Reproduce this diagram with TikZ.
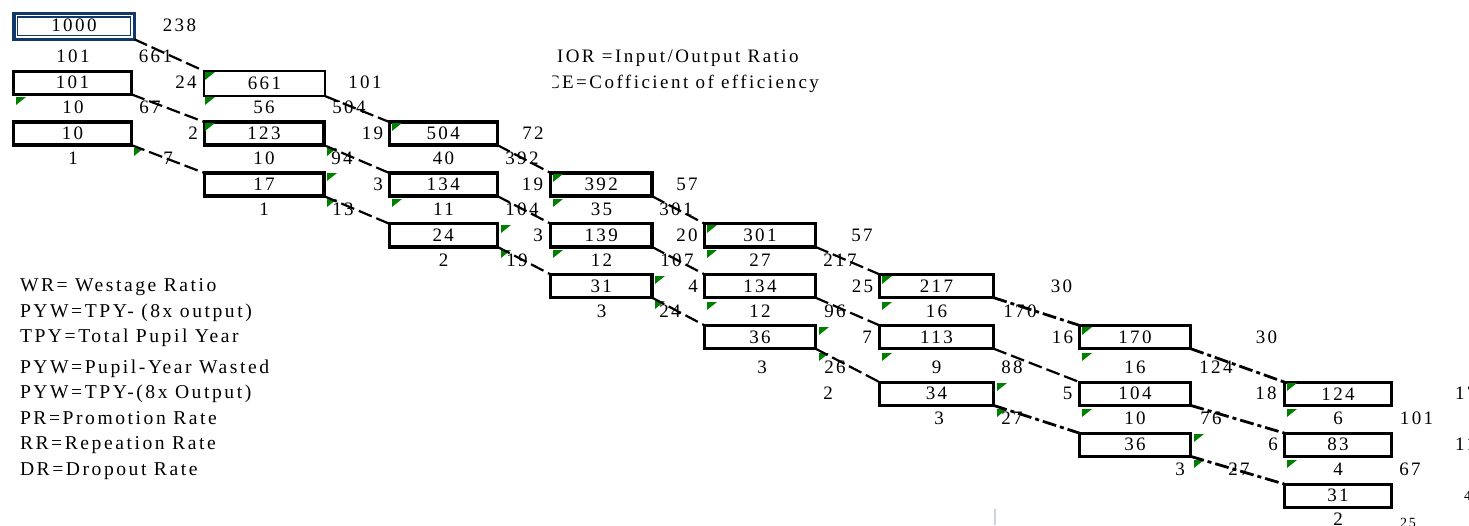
\documentclass[tikz,border=0pt]{standalone}
\usepackage{fontspec}
\setmainfont{Liberation Serif}[LetterSpace=13]
\definecolor{excelgreen}{RGB}{0,128,0}
\definecolor{boxnavy}{RGB}{16,56,104}
\definecolor{faintline}{RGB}{205,213,228}
\tikzset{
  numfont/.style={font=\fontsize{19}{22}\selectfont},
  legfont/.style={font=\fontsize{19.6}{22}\selectfont},
  smallfont/.style={font=\fontsize{14}{16}\selectfont},
  box/.style={draw=black, line width=3.4pt, minimum height=23.1pt, inner sep=0pt, outer sep=0pt, numfont},
  num/.style={inner sep=0pt, outer sep=0pt, anchor=base, numfont},
  txt/.style={inner sep=0pt, outer sep=0pt, anchor=base west, numfont},
  leg/.style={inner sep=0pt, outer sep=0pt, anchor=base west, legfont},
  flow/.style={line width=2.2pt, dash pattern=on 14pt off 5pt},
  heavyflow/.style={line width=2.8pt, dash pattern=on 14pt off 4pt on 4pt off 4pt},
  tri/.style={fill=excelgreen},
}
\begin{document}
\begin{tikzpicture}[x=1pt,y=-1pt]
\fill[white] (0,0) rectangle (1469,525);
\useasboundingbox (0,0) rectangle (1469,525);

% ---------- boxes ----------
\node[box, draw=boxnavy, line width=3.5pt, minimum width=120.5pt, minimum height=26pt] (b00) at (74,26.25) {};
\node[numfont, inner sep=0pt, anchor=base] (t00) at (74,31.8) {1000};
\draw[boxnavy, line width=1.3pt] ([shift={(3.8,3.8)}]b00.north west) rectangle ([shift={(-3.8,-3.8)}]b00.south east);
\node[box, minimum width=117.6pt] (b01) at (72.5,82.75) {101};
\node[box, minimum width=117.6pt] (b02) at (72.5,133.5) {10};

\node[box, line width=1.8pt, minimum width=121.2pt, minimum height=25.2pt] (b11) at (264.5,83.5) {661};
\node[box, minimum width=119.6pt] (b12) at (264,133.5) {123};
\node[box, minimum width=119.6pt] (b13) at (264,184.5) {17};

\node[box, minimum width=108.1pt] (b22) at (443.25,133.5) {504};
\node[box, minimum width=108.1pt] (b23) at (443.25,184.5) {134};
\node[box, minimum width=108.1pt] (b24) at (443.25,235.25) {24};

\node[box, minimum width=101.1pt] (b33) at (601.25,184.5) {392};
\node[box, minimum width=101.1pt] (b34) at (601.25,235.25) {139};
\node[box, minimum width=101.1pt] (b35) at (601.25,286) {31};

\node[box, minimum width=110.6pt] (b44) at (760,235.25) {301};
\node[box, minimum width=110.6pt] (b45) at (760,286) {134};
\node[box, minimum width=110.6pt] (b46) at (760,337) {36};

\node[box, minimum width=113.6pt] (b55) at (936.5,286) {217};
\node[box, minimum width=113.6pt] (b56) at (936.5,337) {113};
\node[box, minimum width=113.6pt] (b57) at (936.5,393.75) {34};

\node[box, minimum width=110.6pt] (b66) at (1135,337) {170};
\node[box, minimum width=110.6pt] (b67) at (1135,393.75) {104};
\node[box, minimum width=110.6pt] (b68) at (1135,444.75) {36};

\node[box, minimum width=106.6pt] (b77) at (1338,393.75) {124};
\node[box, minimum width=106.6pt] (b78) at (1338,444.75) {83};
\node[box, minimum width=106.6pt] (b79) at (1338,495.75) {31};

% ---------- green indicators ----------
\foreach \gx/\gy in {16/97, 205/72, 205/97, 205/123, 134/148, 327/148, 327/173, 327/199,
  392/123, 392/199, 501/225, 501/250, 553/174, 553/199, 553/250, 655/276, 655/301,
  707/225, 707/250, 707/302, 819/327, 819/353, 882/276, 882/302, 882/353, 997/383, 997/409,
  1082/327, 1082/353, 1082/409, 1194/434, 1194/460, 1287/383, 1287/409, 1287/460}
  \fill[tri] (\gx,\gy) -- ++(10,0) -- ++(-10,8) -- cycle;

% ---------- dropout labels (right of boxes) ----------
\node[num] (d00) at (179.5,31.3) {238};
\node[num] (d01) at (186,88.8) {24};
\node[num] (d02) at (193,139.8) {2};
\node[num] (d11) at (365,88.8) {101};
\node[num] (d12) at (372.5,139.8) {19};
\node[num] (d13) at (378,190.8) {3};
\node[num] (d22) at (533,139.8) {72};
\node[num] (d23) at (532.5,190.8) {19};
\node[num] (d24) at (538,241.8) {3};
\node[num] (d33) at (687,190.8) {57};
\node[num] (d34) at (687,241.8) {20};
\node[num] (d35) at (693,292.3) {4};
\node[num] (d44) at (862,241.8) {57};
\node[num] (d45) at (862.5,292.3) {25};
\node[num] (d46) at (867,343.3) {7};
\node[num] (dx) at (828,399.8) {2};
\node[num] (d55) at (1061.5,292.3) {30};
\node[num] (d56) at (1062.5,343.3) {16};
\node[num] (d57) at (1067.5,399.8) {5};
\node[num] (d66) at (1266.5,343.3) {30};
\node[num] (d67) at (1266,399.8) {18};
\node[num] (d68) at (1273,450.8) {6};
\node[txt] (d77) at (1455,399.8) {17};
\node[txt] (d78) at (1455,450.8) {11};
\node[smallfont, inner sep=0pt, anchor=base west] (d79) at (1464,500) {4};

% ---------- repeater labels (below boxes) ----------
\node[num] (r00) at (73,62.3) {101};
\node[num] (r01) at (73,113.3) {10};
\node[num] (r02) at (73,164.3) {1};
\node[num] (r11) at (264,113.3) {56};
\node[num] (r12) at (264,164.3) {10};
\node[num] (r13) at (264,215.3) {1};
\node[num] (r22) at (443.5,164.3) {40};
\node[num] (r23) at (443.5,215.3) {11};
\node[num] (r24) at (443.5,266.3) {2};
\node[num] (r33) at (601.5,215.3) {35};
\node[num] (r34) at (601.5,266.3) {12};
\node[num] (r35) at (601.5,317.3) {3};
\node[num] (r44) at (760,266.3) {27};
\node[num] (r45) at (760,317.3) {12};
\node[num] (r46) at (762,373.3) {3};
\node[num] (r55) at (936.5,317.3) {16};
\node[num] (r56) at (936.5,373.3) {9};
\node[num] (r57) at (939,424.3) {3};
\node[num] (r66) at (1135,373.3) {16};
\node[num] (r67) at (1135,424.3) {10};
\node[num] (r68) at (1180,475.3) {3};
\node[num] (r77) at (1338,424.3) {6};
\node[num] (r78) at (1338,475.3) {4};
\node[num] (r79) at (1338,525.3) {2};

% ---------- promoted labels ----------
\node[num] (p00) at (155.5,62.3) {661};
\node[num] (p01) at (150,113.3) {67};
\node[num] (p02) at (168,164.3) {7};
\node[num] (p11) at (349,113.3) {504};
\node[num] (p12) at (342,164.3) {94};
\node[num] (p13) at (343,215.3) {13};
\node[num] (p22) at (522,164.3) {392};
\node[num] (p23) at (522,215.3) {104};
\node[num] (p24) at (517,266.3) {19};
\node[num] (p33) at (676,215.3) {301};
\node[num] (p34) at (677,266.3) {107};
\node[num] (p35) at (670,317.3) {24};
\node[num] (p44) at (840,266.3) {217};
\node[num] (p45) at (835,317.3) {96};
\node[num] (p46) at (835,373.3) {26};
\node[num] (p55) at (1020,317.3) {170};
\node[num] (p56) at (1012,373.3) {88};
\node[num] (p57) at (1012,424.3) {27};
\node[num] (p66) at (1216,373.3) {124};
\node[num] (p67) at (1211,424.3) {76};
\node[num] (p68) at (1239,475.3) {27};
\node[num] (p77) at (1416.5,424.3) {101};
\node[num] (p78) at (1410,475.3) {67};
\node[smallfont, inner sep=0pt, anchor=base] (p79) at (1408,527) {25};

% ---------- legend ----------
\node[leg] (lg1) at (20,291.2) {WR= Westage Ratio};
\node[leg] (lg2) at (20,317.1) {PYW=TPY- (8x output)};
\node[leg] (lg3) at (20,342.6) {TPY=Total Pupil Year};
\node[leg] (lg4) at (20,373.1) {PYW=Pupil-Year Wasted};
\node[leg] (lg5) at (20,398.6) {PYW=TPY-(8x Output)};
\node[leg] (lg6) at (20,424.1) {PR=Promotion Rate};
\node[leg] (lg7) at (20,449.6) {RR=Repeation Rate};
\node[leg] (lg8) at (20,475.1) {DR=Dropout Rate};
\node[txt] (ior) at (557,62.1) {IOR =Input/Output Ratio};
\begin{scope}
  \clip (552,66) rectangle (840,96);
  \node[txt] (ce) at (547,88.1) {CE=Cofficient of efficiency};
\end{scope}

% ---------- faint mark ----------
\draw[faintline, line width=2.5pt] (995,509) -- (995,525);

% ---------- flows ----------
\draw[flow] (b00.south east) -- (b11.north west);
\draw[flow] (b01.south east) -- (b12.north west);
\draw[flow] (b02.south east) -- (b13.north west);
\draw[flow] (b11.south east) -- (b22.north west);
\draw[flow] (b12.south east) -- (b23.north west);
\draw[flow] (b13.south east) -- (b24.north west);
\draw[flow] (b22.south east) -- (b33.north west);
\draw[flow] (b23.south east) -- (b34.north west);
\draw[flow] (b24.south east) -- (b35.north west);
\draw[flow] (b33.south east) -- (b44.north west);
\draw[flow] (b34.south east) -- (b45.north west);
\draw[flow] (b35.south east) -- (b46.north west);
\draw[flow] (b44.south east) -- (b55.north west);
\draw[flow] (b45.south east) -- (b56.north west);
\draw[flow] (b46.south east) -- (b57.north west);
\draw[heavyflow] (b55.south east) -- (b66.north west);
\draw[flow] (b56.south east) -- (b67.north west);
\draw[heavyflow] (b57.south east) -- (b68.north west);
\draw[heavyflow] (b66.south east) -- (b77.north west);
\draw[heavyflow] (b67.south east) -- (b78.north west);
\draw[heavyflow] (b68.south east) -- (b79.north west);
\end{tikzpicture}
\end{document}
